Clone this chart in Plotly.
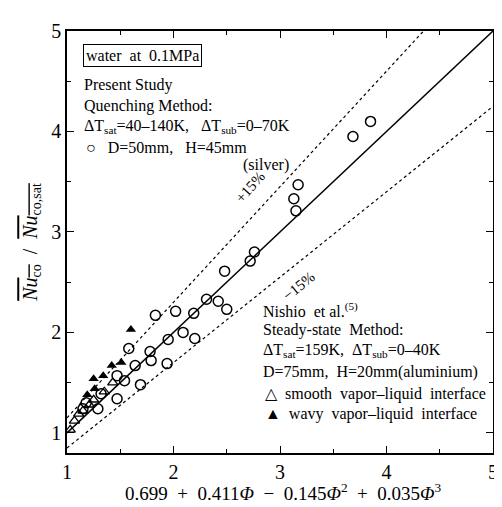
import plotly.graph_objects as go

# Present study (quenching, silver) - open circles
circ_x = [3.85, 3.685, 3.17, 3.13, 3.15, 2.76, 2.72, 2.48,
          1.83, 2.02, 2.19, 2.31, 2.42, 2.50, 2.09, 1.95, 2.20, 1.78, 1.58,
          1.94, 1.79, 1.64, 1.69, 1.54, 1.47, 1.47, 1.32, 1.29, 1.18, 1.15]
circ_y = [4.10, 3.95, 3.47, 3.33, 3.21, 2.80, 2.71, 2.61,
          2.17, 2.21, 2.19, 2.33, 2.31, 2.23, 2.00, 1.93, 1.94, 1.81, 1.84,
          1.69, 1.72, 1.67, 1.48, 1.52, 1.57, 1.34, 1.39, 1.24, 1.30, 1.24]

# Nishio et al. smooth interface - open triangles
tri_o_x = [1.03, 1.07, 1.11, 1.15, 1.21, 1.25, 1.35, 1.43]
tri_o_y = [1.03, 1.12, 1.19, 1.22, 1.28, 1.33, 1.41, 1.50]

# Nishio et al. wavy interface - filled triangles
tri_f_x = [1.60, 1.51, 1.42, 1.34, 1.25, 1.26, 1.19]
tri_f_y = [2.03, 1.70, 1.67, 1.57, 1.54, 1.44, 1.38]

line_x = [1, 5]
plus15 = 1.15
minus15 = 0.85

x_ticks = [1, 2, 3, 4, 5]
y_ticks = [1, 2, 3, 4, 5]

SERIF = "Liberation Serif"

fig = go.Figure()
fig.add_trace(go.Scatter(x=line_x, y=line_x, mode="lines",
                         line=dict(color="black", width=1.5), hoverinfo="skip"))
fig.add_trace(go.Scatter(x=line_x, y=[v * plus15 for v in line_x], mode="lines",
                         line=dict(color="black", width=1.2, dash="dot"), hoverinfo="skip"))
fig.add_trace(go.Scatter(x=line_x, y=[v * minus15 for v in line_x], mode="lines",
                         line=dict(color="black", width=1.2, dash="dot"), hoverinfo="skip"))
fig.add_trace(go.Scatter(x=circ_x, y=circ_y, mode="markers",
                         marker=dict(symbol="circle-open", size=10, color="black",
                                     line=dict(width=1.5))))
fig.add_trace(go.Scatter(x=tri_o_x, y=tri_o_y, mode="markers",
                         marker=dict(symbol="triangle-up-open", size=9, color="black",
                                     line=dict(width=1.3))))
fig.add_trace(go.Scatter(x=tri_f_x, y=tri_f_y, mode="markers",
                         marker=dict(symbol="triangle-up", size=9, color="black")))

# plot area on the page: x 67..495, y 20..453
def px2paper(px, py):
    return (px - 67) / 428.0, (453 - py) / 433.0

ann = []
def txt(s, px, py, anchor="left", size=16, **kw):
    x, y = px2paper(px, py)
    d = dict(text=s, x=x, y=y, xref="paper", yref="paper", xanchor=anchor,
             yanchor="middle", showarrow=False,
             font=dict(family=SERIF, size=size, color="black"))
    d.update(kw)
    ann.append(d)

txt("water  at  0.1MPa", 83, 45, bordercolor="black", borderwidth=1, borderpad=2)
txt("Present Study", 82, 75)
txt("Quenching Method:", 82, 97)
txt("ΔT<sub>sat</sub>=40–140K,   ΔT<sub>sub</sub>=0–70K", 82, 118)
txt("○   D=50mm,   H=45mm", 84, 140)
txt("(silver)", 292, 157, anchor="right")
txt("Nishio  et al.<sup>(5)</sup>", 262, 306)
txt("Steady-state  Method:", 262, 327)
txt("ΔT<sub>sat</sub>=159K,  ΔT<sub>sub</sub>=0–40K", 262, 348)
txt("D=75mm,  H=20mm(aluminium)", 262, 370)
txt("△  smooth  vapor–liquid  interface", 264, 392)
txt("▲  wavy  vapor–liquid  interface", 264, 413)

# x-axis title placed as text below the tick labels
txt("0.699  +  0.411<i>Φ</i>  −  0.145<i>Φ</i><sup>2</sup>  +  0.035<i>Φ</i><sup>3</sup>",
    285, 493, anchor="center", size=19)

ann.append(dict(text="+15%", x=2.72, y=3.45, xref="x", yref="y", showarrow=False,
                textangle=-48, font=dict(family=SERIF, size=15, color="black")))
ann.append(dict(text="−15%", x=3.18, y=2.46, xref="x", yref="y", showarrow=False,
                textangle=-39, font=dict(family=SERIF, size=15, color="black")))

fig.update_layout(
    width=502, height=507,
    margin=dict(l=59, r=15, t=12, b=62),
    paper_bgcolor="white", plot_bgcolor="white",
    showlegend=False,
    annotations=ann,
    font=dict(family=SERIF, color="black"),
)
axis_common = dict(showline=True, linecolor="black", linewidth=1.5, mirror="ticks",
                   ticks="inside", ticklen=7, tickwidth=1.3, tickcolor="black",
                   showgrid=False, zeroline=False,
                   tickfont=dict(family=SERIF, size=20, color="black"),
                   minor=dict(ticks="inside", ticklen=4, tickwidth=1, tickcolor="black",
                              dtick=0.5, showgrid=False))
fig.update_xaxes(range=[1, 5], tickvals=x_ticks, **axis_common)
fig.update_yaxes(range=[0.8, 5], tickvals=y_ticks, **axis_common,
                 title=dict(text="<span style='text-decoration:overline'><i>Nu</i><sub>co</sub></span>  /  <span style='text-decoration:overline'><i>Nu</i><sub>co,sat</sub></span>",
                            font=dict(family=SERIF, size=20), standoff=8))

fig.write_html("out.html")
